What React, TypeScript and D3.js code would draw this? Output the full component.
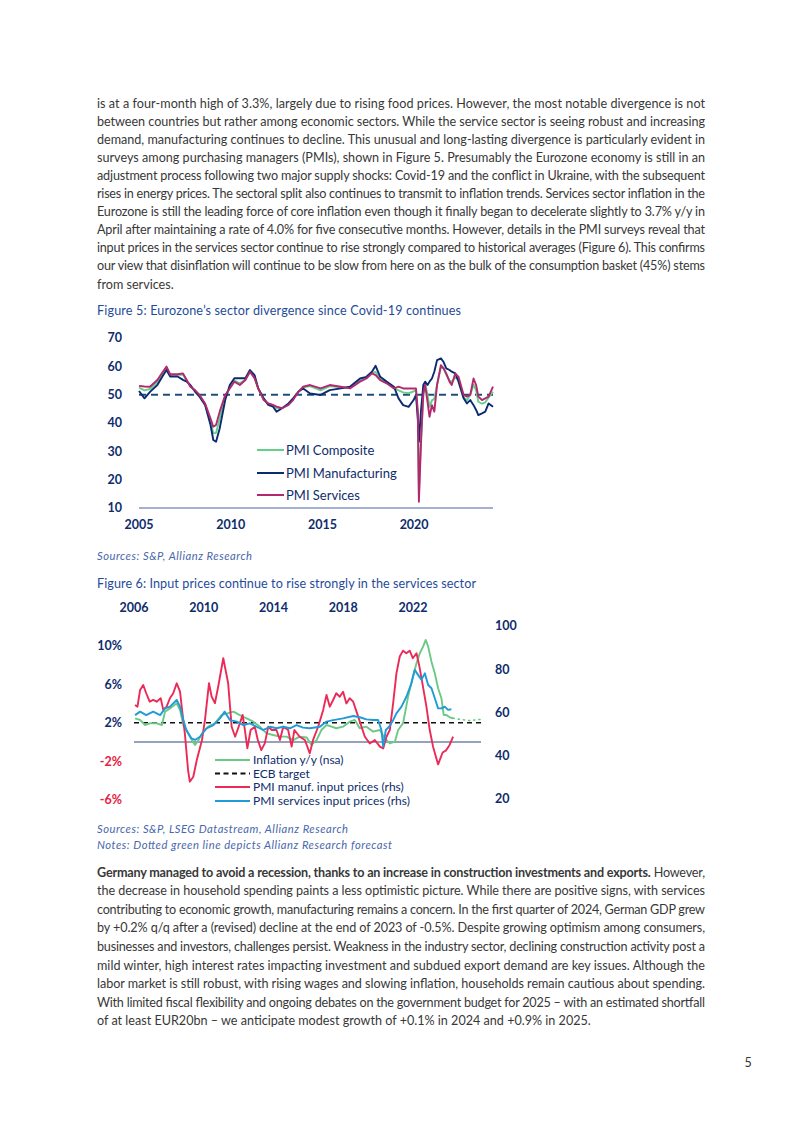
import React from "react";
import * as d3 from "d3";

// ---------- Text content ----------
const para1Lines = [
  "is at a four-month high of 3.3%, largely due to rising food prices. However, the most notable divergence is not",
  "between countries but rather among economic sectors. While the service sector is seeing robust and increasing",
  "demand, manufacturing continues to decline. This unusual and long-lasting divergence is particularly evident in",
  "surveys among purchasing managers (PMIs), shown in Figure 5. Presumably the Eurozone economy is still in an",
  "adjustment process following two major supply shocks: Covid-19 and the conflict in Ukraine, with the subsequent",
  "rises in energy prices. The sectoral split also continues to transmit to inflation trends. Services sector inflation in the",
  "Eurozone is still the leading force of core inflation even though it finally began to decelerate slightly to 3.7% y/y in",
  "April after maintaining a rate of 4.0% for five consecutive months. However, details in the PMI surveys reveal that",
  "input prices in the services sector continue to rise strongly compared to historical averages (Figure 6). This confirms",
  "our view that disinflation will continue to be slow from here on as the bulk of the consumption basket (45%) stems",
  "from services.",
];
const para2Bold = "Germany managed to avoid a recession, thanks to an increase in construction investments and exports.";
const para2FirstRest = " However,";
const para2Lines = [
  "the decrease in household spending paints a less optimistic picture. While there are positive signs, with services",
  "contributing to economic growth, manufacturing remains a concern. In the first quarter of 2024, German GDP grew",
  "by +0.2% q/q after a (revised) decline at the end of 2023 of -0.5%. Despite growing optimism among consumers,",
  "businesses and investors, challenges persist. Weakness in the industry sector, declining construction activity post a",
  "mild winter, high interest rates impacting investment and subdued export demand are key issues. Although the",
  "labor market is still robust, with rising wages and slowing inflation, households remain cautious about spending.",
  "With limited fiscal flexibility and ongoing debates on the government budget for 2025 \u2013 with an estimated shortfall",
  "of at least EUR20bn \u2013 we anticipate modest growth of +0.1% in 2024 and +0.9% in 2025.",
];
const fig5Title = "Figure 5: Eurozone\u2019s sector divergence since Covid-19 continues";
const fig5Source = "Sources: S&P, Allianz Research";
const fig6Title = "Figure 6: Input prices continue to rise strongly in the services sector";
const fig6Source = "Sources: S&P, LSEG Datastream, Allianz Research";
const fig6Note = "Notes: Dotted green line depicts Allianz Research forecast";
const pageNumber = "5";

// ---------- Figure 5 data ----------
const pmiYTicks = [10, 20, 30, 40, 50, 60, 70];
const pmiXTicks = [2005, 2010, 2015, 2020];
const pmiDates = [
  2005.0, 2005.3, 2005.6, 2006.0, 2006.3, 2006.5, 2006.7, 2007.1, 2007.4, 2007.6, 2007.8, 2008.05, 2008.3, 2008.6,
  2008.9, 2009.05, 2009.2, 2009.4, 2009.7, 2009.95, 2010.2, 2010.5, 2010.8, 2011.05, 2011.3, 2011.5, 2011.8, 2012.05,
  2012.3, 2012.5, 2012.8, 2013.15, 2013.4, 2013.7, 2013.95, 2014.33, 2014.9, 2015.4, 2016.0, 2016.5, 2017.05, 2017.4,
  2017.7, 2017.9, 2018.15, 2018.5, 2018.9, 2019.15, 2019.4, 2019.7, 2019.97, 2020.1, 2020.2, 2020.26, 2020.37, 2020.5,
  2020.6, 2020.73, 2020.84, 2020.97, 2021.1, 2021.25, 2021.46, 2021.6, 2021.75, 2021.93, 2022.05, 2022.24, 2022.42,
  2022.7, 2022.88, 2023.06, 2023.24, 2023.38, 2023.5, 2023.7, 2023.88, 2024.06, 2024.3,
];
const pmiServices = [
  53.1, 52.9, 52.8, 55.2, 58.1, 59.9, 57.2, 57.2, 57.5, 55.2, 52.8, 51.6, 49.9, 46.9, 41.6, 38.7, 39.3, 44.0, 49.9,
  52.2, 54.6, 53.4, 55.2, 58.1, 55.8, 52.2, 48.1, 46.9, 46.4, 45.8, 45.2, 46.4, 48.1, 51.1, 52.8, 53.4, 52.2, 53.4,
  52.8, 52.2, 54.6, 55.7, 57.5, 56.9, 55.1, 54.0, 52.2, 52.8, 52.2, 52.2, 52.2, 52.2, 44.0, 12.2, 32.2, 50.4, 53.4,
  47.5, 42.2, 46.3, 44.0, 53.4, 60.4, 59.3, 57.5, 54.6, 53.4, 57.5, 56.3, 49.9, 49.3, 49.9, 55.7, 53.4, 49.3, 48.1,
  48.7, 49.3, 52.8,
];
const pmiManufacturing = [
  51.3, 48.7, 51.0, 53.4, 56.7, 58.7, 56.4, 56.4, 55.2, 54.6, 53.4, 51.1, 49.3, 46.4, 39.3, 34.0, 33.4, 38.1, 48.1,
  53.4, 55.8, 55.8, 55.8, 58.7, 56.9, 52.2, 48.7, 46.4, 45.8, 44.0, 45.2, 46.9, 48.7, 51.1, 52.2, 50.4, 49.9, 51.6,
  52.2, 52.8, 55.7, 56.3, 58.1, 60.2, 56.3, 54.6, 52.8, 48.7, 46.3, 45.7, 48.1, 49.9, 41.6, 33.4, 44.0, 53.4, 54.6,
  53.4, 54.6, 55.7, 58.1, 62.2, 62.8, 61.6, 59.3, 58.7, 58.1, 57.5, 54.6, 48.7, 46.9, 48.1, 46.3, 44.6, 42.8, 43.4,
  44.0, 46.9, 45.7,
];
const pmiComposite = [
  52.5, 51.5, 52.0, 54.5, 57.5, 59.5, 57.0, 57.0, 57.0, 55.0, 53.0, 51.5, 49.7, 46.8, 40.5, 36.4, 36.5, 41.6, 49.3,
  52.5, 55.0, 54.0, 55.3, 58.2, 56.0, 52.2, 48.3, 46.8, 46.2, 45.3, 45.3, 46.5, 48.4, 51.1, 52.6, 53.0, 51.5, 53.0,
  52.6, 52.4, 55.0, 56.0, 57.7, 58.0, 55.5, 54.2, 52.3, 51.5, 50.8, 50.5, 51.2, 51.5, 43.0, 14.6, 34.0, 49.5, 54.0,
  50.0, 45.7, 48.0, 48.5, 53.5, 59.7, 59.5, 57.0, 55.0, 54.5, 56.0, 55.5, 49.0, 48.0, 50.0, 53.5, 51.5, 47.5, 46.8,
  47.3, 49.0, 51.0,
];
const pmiLegend = ["PMI Composite", "PMI Manufacturing", "PMI Services"];

// ---------- Figure 6 data ----------
const inflXTicks = [2006, 2010, 2014, 2018, 2022];
const inflLeftTicks = [10, 6, 2, -2, -6];
const inflRightTicks = [100, 80, 60, 40, 20];
const inflationDates = [
  2006.06, 2006.35, 2006.63, 2006.9, 2007.3, 2007.6, 2007.78, 2008.06, 2008.45, 2008.64, 2008.83, 2009.0, 2009.2,
  2009.5, 2009.7, 2009.9, 2010.26, 2010.64, 2011.02, 2011.4, 2011.7, 2012.07, 2012.46, 2012.84, 2013.22, 2013.6,
  2013.98, 2014.37, 2014.75, 2015.13, 2015.5, 2015.9, 2016.18, 2016.47, 2016.75, 2017.04, 2017.33, 2017.6, 2017.99,
  2018.37, 2018.66, 2018.95, 2019.33, 2019.71, 2020.1, 2020.38, 2020.67, 2020.96, 2021.15, 2021.43, 2021.72, 2021.99,
  2022.2, 2022.39, 2022.58, 2022.73, 2022.87, 2023.06, 2023.25, 2023.44, 2023.63, 2023.76, 2023.92, 2024.1, 2024.3,
];
const inflationValues = [
  2.47, 2.3, 1.77, 1.95, 1.95, 1.77, 3.16, 3.5, 4.03, 3.33, 1.77, 1.25, 0.56, -0.3, 0.2, 0.9, 1.6, 1.95, 2.8, 3.0,
  3.16, 2.8, 2.47, 2.12, 1.6, 0.9, 0.73, 0.56, 0.56, 0.2, 0.56, 0.47, -0.3, 0.2, 1.25, 1.77, 1.6, 1.43, 1.6, 2.12,
  2.3, 1.43, 1.6, 1.08, 1.25, 0.38, -0.14, 0.03, 1.25, 1.95, 4.72, 6.8, 8.2, 9.24, 9.93, 10.63, 9.93, 8.37, 7.16,
  5.6, 4.55, 2.82, 2.82, 2.57, 2.47,
];
const forecastDates = [2024.3, 2024.68, 2025.25, 2025.9];
const forecastValues = [2.47, 2.36, 2.23, 2.36];
const ecbTarget = 2;
const manufInputDates = [
  2006.06, 2006.2, 2006.35, 2006.53, 2006.7, 2006.9, 2007.1, 2007.3, 2007.53, 2007.68, 2007.87, 2008.06, 2008.25,
  2008.45, 2008.64, 2008.8, 2008.92, 2009.1, 2009.2, 2009.4, 2009.6, 2009.9, 2010.07, 2010.3, 2010.45, 2010.64,
  2010.83, 2011.12, 2011.4, 2011.6, 2011.8, 2012.07, 2012.23, 2012.36, 2012.5, 2012.69, 2012.93, 2013.1, 2013.3,
  2013.5, 2013.7, 2013.9, 2014.17, 2014.37, 2014.56, 2014.84, 2015.04, 2015.2, 2015.5, 2015.8, 2016.08, 2016.27,
  2016.56, 2016.85, 2017.04, 2017.23, 2017.42, 2017.6, 2017.8, 2017.99, 2018.18, 2018.37, 2018.57, 2018.76, 2018.95,
  2019.24, 2019.52, 2019.81, 2020.1, 2020.29, 2020.48, 2020.67, 2020.86, 2021.05, 2021.24, 2021.43, 2021.62, 2021.81,
  2021.99, 2022.2, 2022.35, 2022.54, 2022.77, 2022.96, 2023.15, 2023.44, 2023.7, 2023.9, 2024.1, 2024.3,
];
const manufInputValues = [
  63.5, 62.7, 70.4, 72.7, 68.9, 65.0, 65.8, 65.0, 66.6, 61.2, 62.7, 66.6, 68.9, 73.5, 69.7, 58.1, 50.0, 33.4, 28.0,
  30.3, 38.0, 47.3, 56.6, 73.5, 67.4, 64.3, 72.0, 85.1, 73.5, 53.4, 48.8, 55.0, 58.9, 51.9, 43.4, 51.9, 53.4, 47.3,
  42.6, 45.7, 53.4, 51.9, 51.9, 47.3, 53.4, 51.9, 44.2, 51.9, 48.8, 47.3, 41.1, 47.3, 53.4, 61.2, 68.1, 62.7, 65.8,
  68.9, 67.3, 69.6, 64.2, 66.6, 65.0, 60.4, 55.8, 48.8, 45.7, 47.3, 44.2, 43.4, 48.8, 51.9, 64.2, 78.1, 85.9, 88.6,
  87.4, 88.6, 85.1, 87.4, 82.0, 73.5, 62.7, 51.9, 44.2, 36.0, 41.5, 42.5, 45.0, 48.8,
];
const servInputDates = [
  2006.06, 2006.35, 2006.7, 2007.1, 2007.5, 2007.78, 2008.06, 2008.45, 2008.64, 2008.83, 2009.0, 2009.3, 2009.5,
  2009.78, 2010.16, 2010.55, 2010.93, 2011.2, 2011.5, 2011.9, 2012.27, 2012.65, 2013.03, 2013.4, 2013.8, 2014.17,
  2014.56, 2014.94, 2015.32, 2015.7, 2016.08, 2016.66, 2017.04, 2017.42, 2017.99, 2018.57, 2018.95, 2019.33, 2019.71,
  2020.0, 2020.19, 2020.29, 2020.44, 2020.63, 2020.82, 2021.05, 2021.34, 2021.62, 2021.91, 2022.1, 2022.29, 2022.48,
  2022.68, 2022.87, 2023.06, 2023.25, 2023.44, 2023.63, 2023.82, 2024.01, 2024.2,
];
const servInputValues = [
  58.8, 60.4, 58.8, 60.4, 58.8, 61.9, 62.7, 65.8, 62.7, 56.5, 51.9, 48.0, 47.3, 48.8, 52.7, 54.2, 57.3, 60.4, 56.5,
  55.8, 54.2, 55.0, 53.4, 51.9, 53.4, 52.7, 53.4, 52.7, 54.2, 53.0, 52.7, 53.4, 55.8, 56.5, 57.3, 58.4, 57.8, 56.8,
  56.5, 56.5, 51.9, 44.2, 51.9, 53.4, 55.8, 59.6, 62.7, 67.3, 73.5, 79.7, 77.4, 75.1, 78.1, 72.7, 71.2, 66.6, 61.9,
  61.9, 62.7, 61.2, 61.5,
];
const inflLegend = ["Inflation y/y (nsa)", "ECB target", "PMI manuf. input prices (rhs)", "PMI services input prices (rhs)"];

// ---------- Styles ----------
const FONT = "Lato, 'Open Sans', sans-serif";
const BODY = "#383838";
const NAVY = "#0e2c6c";
const TITLE = "#1f4c9a";
const SRC = "#4867ac";
const C_COMP = "#63cf88";
const C_MANU = "#0c2a70";
const C_SERV = "#b3286f";
const C_INFL = "#6cc985";
const C_RED = "#ec2a57";
const C_BLUE = "#1f9bd7";

function pts(dates: number[], vals: number[]): [number, number][] {
  return dates.map((d, i) => [d, vals[i]]);
}

export default function App() {
  // Figure 5 scales
  const x5 = d3.scaleLinear().domain([2005, 2024.3]).range([139, 493]);
  const y5 = d3.scaleLinear().domain([10, 70]).range([508, 338]);
  const line5 = d3
    .line<[number, number]>()
    .x((d) => x5(d[0]))
    .y((d) => y5(d[1]));

  // Figure 6 scales
  const x6 = d3.scaleLinear().domain([2006, 2025.9]).range([134, 481]);
  const yL = d3.scaleLinear().domain([-6, 10]).range([799.6, 646]);
  const yR = d3.scaleLinear().domain([20, 100]).range([799, 626]);
  const lineL = d3
    .line<[number, number]>()
    .x((d) => x6(d[0]))
    .y((d) => yL(d[1]));
  const lineR = d3
    .line<[number, number]>()
    .x((d) => x6(d[0]))
    .y((d) => yR(d[1]));

  const p1Top = 107.5;
  const p1Step = 18.1;
  const p2Top = 876.5;
  const p2Step = 18.6;

  const legend5Colors = [C_COMP, C_MANU, C_SERV];
  const legend5Y = [450, 473, 495];
  const legend6Y = [760, 773.5, 787, 801];

  return (
    <svg
      width={802}
      height={1133}
      style={{ position: "absolute", left: 0, top: 0, background: "#fff" }}
      fontFamily={FONT}
    >
      <rect x={0} y={0} width={802} height={1133} fill="#fff" />
      {/* Paragraph 1 */}
      {para1Lines.map((l, i) =>
        i === para1Lines.length - 1 ? (
          <text key={"p1" + i} x={97} y={p1Top + i * p1Step} fontSize={12.6} fill={BODY}>
            {l}
          </text>
        ) : (
          <text
            key={"p1" + i}
            x={97}
            y={p1Top + i * p1Step}
            fontSize={12.6}
            fill={BODY}
            textLength={608}
            lengthAdjust="spacing"
          >
            {l}
          </text>
        )
      )}

      {/* Figure 5 */}
      <text x={97} y={315} fontSize={12.6} fill={TITLE} textLength={364} lengthAdjust="spacing">
        {fig5Title}
      </text>
      {pmiYTicks.map((t) => (
        <text key={"y5" + t} x={122} y={y5(t)} dy="0.35em" textAnchor="end" fontSize={12.5} fontWeight={700} fill={NAVY}>
          {t}
        </text>
      ))}
      {pmiXTicks.map((t) => (
        <text key={"x5" + t} x={x5(t)} y={525} dy="0.35em" textAnchor="middle" fontSize={12.5} fontWeight={700} fill={NAVY}>
          {t}
        </text>
      ))}
      <line x1={139} x2={493} y1={y5(10)} y2={y5(10)} stroke="#4a62a6" strokeWidth={1.2} />
      <line
        x1={139}
        x2={493}
        y1={y5(50)}
        y2={y5(50)}
        stroke="#1d4f7c"
        strokeWidth={2}
        strokeDasharray="7,5"
      />
      <path d={line5(pts(pmiDates, pmiComposite)) || ""} fill="none" stroke={C_COMP} strokeWidth={1.9} strokeLinejoin="round" />
      <path d={line5(pts(pmiDates, pmiManufacturing)) || ""} fill="none" stroke={C_MANU} strokeWidth={1.9} strokeLinejoin="round" />
      <path d={line5(pts(pmiDates, pmiServices)) || ""} fill="none" stroke={C_SERV} strokeWidth={1.9} strokeLinejoin="round" />
      {pmiLegend.map((l, i) => (
        <g key={"l5" + i}>
          <line x1={257} x2={284} y1={legend5Y[i]} y2={legend5Y[i]} stroke={legend5Colors[i]} strokeWidth={2} />
          <text x={286} y={legend5Y[i]} dy="0.35em" fontSize={13} fill={NAVY}>
            {l}
          </text>
        </g>
      ))}
      <text x={97} y={560} fontSize={11.2} fontStyle="italic" fill={SRC} textLength={155} lengthAdjust="spacing">
        {fig5Source}
      </text>

      {/* Figure 6 */}
      <text x={97} y={588} fontSize={12.6} fill={TITLE} textLength={379} lengthAdjust="spacing">
        {fig6Title}
      </text>
      {inflXTicks.map((t) => (
        <text key={"x6" + t} x={x6(t)} y={608} dy="0.35em" textAnchor="middle" fontSize={12.5} fontWeight={700} fill={NAVY}>
          {t}
        </text>
      ))}
      {inflLeftTicks.map((t) => (
        <text
          key={"yl" + t}
          x={122}
          y={yL(t)}
          dy="0.35em"
          textAnchor="end"
          fontSize={12.5}
          fontWeight={700}
          fill={t < 0 ? "#e8203f" : NAVY}
        >
          {t + "%"}
        </text>
      ))}
      {inflRightTicks.map((t) => (
        <text key={"yr" + t} x={495} y={yR(t)} dy="0.35em" fontSize={12.5} fontWeight={700} fill={NAVY}>
          {t}
        </text>
      ))}
      <line x1={134} x2={481} y1={yL(0)} y2={yL(0)} stroke="#2c4670" strokeWidth={1.2} />
      <line
        x1={134}
        x2={481}
        y1={yL(ecbTarget)}
        y2={yL(ecbTarget)}
        stroke="#111"
        strokeWidth={1.6}
        strokeDasharray="5,4"
      />
      <path d={lineL(pts(inflationDates, inflationValues)) || ""} fill="none" stroke={C_INFL} strokeWidth={1.9} strokeLinejoin="round" />
      <path
        d={lineL(pts(forecastDates, forecastValues)) || ""}
        fill="none"
        stroke={C_INFL}
        strokeWidth={1.6}
        strokeDasharray="1.2,4"
        strokeLinecap="round"
      />
      <path d={lineR(pts(manufInputDates, manufInputValues)) || ""} fill="none" stroke={C_RED} strokeWidth={1.9} strokeLinejoin="round" />
      <path d={lineR(pts(servInputDates, servInputValues)) || ""} fill="none" stroke={C_BLUE} strokeWidth={1.9} strokeLinejoin="round" />
      {inflLegend.map((l, i) => (
        <g key={"l6" + i}>
          <line
            x1={215}
            x2={250}
            y1={legend6Y[i]}
            y2={legend6Y[i]}
            stroke={[C_INFL, "#111", C_RED, C_BLUE][i]}
            strokeWidth={i === 1 ? 1.8 : 2}
            strokeDasharray={i === 1 ? "5,3.5" : undefined}
          />
          <text x={253} y={legend6Y[i]} dy="0.35em" fontSize={12} fill={NAVY}>
            {l}
          </text>
        </g>
      ))}
      <text x={97} y={833} fontSize={11.2} fontStyle="italic" fill={SRC} textLength={251} lengthAdjust="spacing">
        {fig6Source}
      </text>
      <text x={97} y={849} fontSize={11.2} fontStyle="italic" fill={SRC} textLength={295} lengthAdjust="spacing">
        {fig6Note}
      </text>

      {/* Paragraph 2 */}
      <text x={97} y={p2Top} fontSize={12.6} fill={BODY} textLength={608} lengthAdjust="spacing">
        <tspan fontWeight={700}>{para2Bold}</tspan>
        <tspan>{para2FirstRest}</tspan>
      </text>
      {para2Lines.map((l, i) =>
        i === para2Lines.length - 1 ? (
          <text key={"p2" + i} x={97} y={p2Top + (i + 1) * p2Step} fontSize={12.6} fill={BODY}>
            {l}
          </text>
        ) : (
          <text
            key={"p2" + i}
            x={97}
            y={p2Top + (i + 1) * p2Step}
            fontSize={12.6}
            fill={BODY}
            textLength={608}
            lengthAdjust="spacing"
          >
            {l}
          </text>
        )
      )}

      <text x={748} y={1067} fontSize={12.5} fill="#333" textAnchor="middle">
        {pageNumber}
      </text>
    </svg>
  );
}
